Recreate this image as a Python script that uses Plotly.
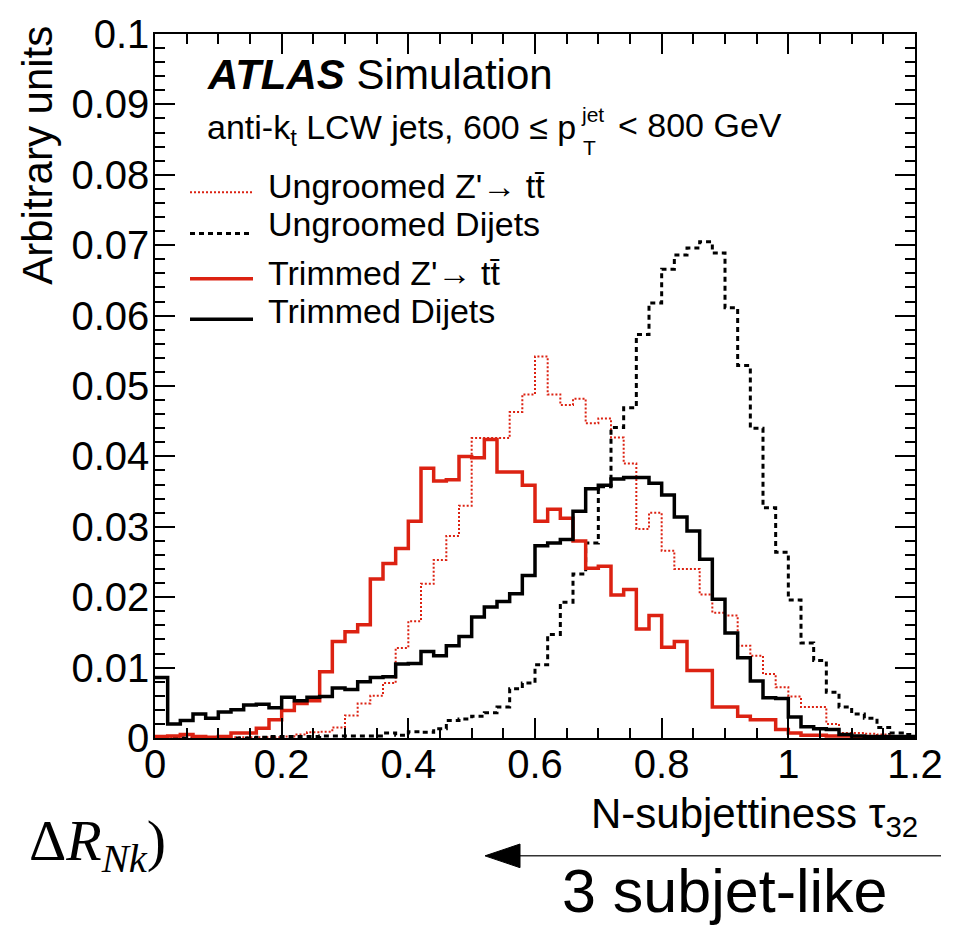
import numpy as np
import plotly.graph_objects as go

# ---------------- data ----------------
X_MIN, X_MAX, N_BINS = 0.0, 1.2, 60
bin_edges = np.linspace(X_MIN, X_MAX, N_BINS + 1)

ungroomed_zprime = [0.0, 0.0001, 0.0001, 0.0001, 0.0001, 0.0001, 0.0001, 0.0001, 0.0001, 0.0001,
                    0.0002, 0.0005, 0.0008, 0.0009, 0.0015, 0.0032, 0.0049, 0.0060, 0.0078, 0.0128,
                    0.0166, 0.0219, 0.0253, 0.0287, 0.0330, 0.0426, 0.0426, 0.0426, 0.0463, 0.0488,
                    0.0542, 0.0488, 0.0473, 0.0482, 0.0447, 0.0454, 0.0427, 0.0390, 0.0297, 0.0320,
                    0.0266, 0.0240, 0.0240, 0.0204, 0.0178, 0.0174, 0.0131, 0.0117, 0.0091, 0.0072,
                    0.0059, 0.0044, 0.0044, 0.0020, 0.0007, 0.0007, 0.0006, 0.0005, 0.0003, 0.0002]

ungroomed_dijets = [0.0, 0.0, 0.0, 0.0, 0.0, 0.0, 0.0, 0.0, 0.0001, 0.0002,
                    0.0002, 0.0002, 0.0002, 0.0003, 0.0003, 0.0003, 0.0003, 0.0003, 0.0007, 0.0004,
                    0.0009, 0.0008, 0.0013, 0.0025, 0.0027, 0.0031, 0.0036, 0.0044, 0.0070, 0.0078,
                    0.0104, 0.0147, 0.0193, 0.0233, 0.0277, 0.0357, 0.0441, 0.0469, 0.0573, 0.0618,
                    0.0666, 0.0686, 0.0696, 0.0705, 0.0689, 0.0611, 0.0529, 0.0440, 0.0327, 0.0264,
                    0.0196, 0.0135, 0.0110, 0.0065, 0.0044, 0.0034, 0.0028, 0.0015, 0.0007, 0.0005]

trimmed_zprime = [0.0002, 0.0003, 0.0005, 0.0002, 0.0001, 0.0002, 0.0007, 0.0007, 0.0014, 0.0026,
                  0.0039, 0.0049, 0.0053, 0.0094, 0.0137, 0.0151, 0.0161, 0.0226, 0.0248, 0.0269,
                  0.0308, 0.0383, 0.0365, 0.0367, 0.0400, 0.0398, 0.0424, 0.0378, 0.0378, 0.0359,
                  0.0308, 0.0325, 0.0312, 0.0280, 0.0241, 0.0244, 0.0203, 0.0211, 0.0155, 0.0174,
                  0.0129, 0.0137, 0.0096, 0.0096, 0.0044, 0.0044, 0.0031, 0.0026, 0.0026, 0.0012,
                  0.0007, 0.0004, 0.0004, 0.0003, 0.0003, 0.0001, 0.0001, 0.0001, 0.0, 0.0]

trimmed_dijets = [0.0086, 0.0020, 0.0025, 0.0034, 0.0028, 0.0037, 0.0040, 0.0047, 0.0048, 0.0043,
                  0.0058, 0.0053, 0.0058, 0.0059, 0.0071, 0.0069, 0.0080, 0.0086, 0.0087, 0.0105,
                  0.0106, 0.0123, 0.0117, 0.0131, 0.0144, 0.0172, 0.0186, 0.0194, 0.0205, 0.0231,
                  0.0273, 0.0277, 0.0282, 0.0322, 0.0354, 0.0359, 0.0368, 0.0370, 0.0370, 0.0362,
                  0.0345, 0.0314, 0.0294, 0.0254, 0.0197, 0.0149, 0.0114, 0.0081, 0.0057, 0.0056,
                  0.0030, 0.0016, 0.0013, 0.0012, 0.0005, 0.0003, 0.0002, 0.0002, 0.0002, 0.0002]

x_tick_vals = [0, 0.2, 0.4, 0.6, 0.8, 1.0, 1.2]
x_tick_text = ["0", "0.2", "0.4", "0.6", "0.8", "1", "1.2"]
y_tick_vals = [0, 0.01, 0.02, 0.03, 0.04, 0.05, 0.06, 0.07, 0.08, 0.09, 0.1]
y_tick_text = ["0", "0.01", "0.02", "0.03", "0.04", "0.05", "0.06", "0.07", "0.08", "0.09", "0.1"]

series_names = ["Ungroomed Z'\u2192 tt\u0304", "Ungroomed Dijets",
                "Trimmed Z'\u2192 tt\u0304", "Trimmed Dijets"]

# ---------------- styling / layout ----------------
W, H = 961, 925
L, R, T, B = 155, 915, 23.3, 738.3   # plot-area pixel box
RED = "#dc2212"
FONT = "Liberation Sans, Arial, Helvetica, sans-serif"
SERIF = "Liberation Serif, Times New Roman, serif"

styles = [
    dict(color=RED, width=2, dash="2px,2px"),
    dict(color="black", width=3, dash="5px,4px"),
    dict(color=RED, width=3.5, dash="solid"),
    dict(color="black", width=3.5, dash="solid"),
]


def px(xp):
    return (xp - L) / (R - L)


def py(yp):
    return (B - yp) / (B - T)


def step(vals):
    return list(bin_edges), list(vals) + [vals[-1]]


fig = go.Figure()
for vals, name, st in zip([ungroomed_zprime, ungroomed_dijets, trimmed_zprime, trimmed_dijets],
                          series_names, styles):
    xs, ys = step(vals)
    fig.add_trace(go.Scatter(x=xs, y=ys, mode="lines", line_shape="hv", name=name,
                             line=st, showlegend=False, hoverinfo="skip"))

annotations = []


def ann(text, x, y, size, xanchor="left", yanchor="middle", family=FONT, **kw):
    annotations.append(dict(text=text, x=px(x), y=py(y), xref="paper", yref="paper",
                            xanchor=xanchor, yanchor=yanchor, showarrow=False,
                            font=dict(family=family, size=size, color="black"), **kw))


ann("<b><i>ATLAS</i></b> Simulation", 205, 64, 42)
ann("anti-k<sub>t</sub> LCW jets, 600 \u2264 p", 578, 120, 34, xanchor="right")
ann("jet", 579, 105, 21)
ann("T", 581, 139, 21)
ann("< 800 GeV", 616, 116, 34)

legend_y_text = [178, 216, 266, 305]
legend_y_line = [184, 226, 272, 313]
for name, yt in zip(series_names, legend_y_text):
    ann(name, 266, yt, 34)

ann("N-subjettiness \u03c4<sub>32</sub>", 920, 818, 42, xanchor="right")
ann("Arbitrary units", 38, 147, 42, xanchor="center", textangle=-90)
ann("\u0394<i>R<sub>Nk</sub></i>)", 168, 846, 58, xanchor="right", family=SERIF)
ann("3 subjet-like", 725, 894, 61, xanchor="center")

shapes = []
for yl, st in zip(legend_y_line, styles):
    shapes.append(dict(type="line", xref="paper", yref="paper",
                       x0=px(190), x1=px(253), y0=py(yl), y1=py(yl),
                       line=dict(color=st["color"], width=st["width"], dash=st["dash"])))

# arrow below the axis
shapes.append(dict(type="line", xref="paper", yref="paper", x0=px(515), x1=px(941),
                   y0=py(858), y1=py(858), line=dict(color="#333333", width=1.5)))
shapes.append(dict(type="path", xref="paper", yref="paper",
                   path=f"M {px(485)},{py(858)} L {px(520)},{py(846)} L {px(520)},{py(870)} Z",
                   fillcolor="black", line=dict(color="black", width=1)))

axis_common = dict(showline=True, linecolor="black", linewidth=1.5, mirror="allticks",
                   ticks="inside", ticklen=20, tickwidth=1.5, tickcolor="black",
                   showgrid=False, zeroline=False,
                   tickfont=dict(family=FONT, size=40, color="black"))

fig.update_layout(
    width=W, height=H,
    margin=dict(l=L, r=W - R, t=T, b=H - B, pad=0),
    paper_bgcolor="white", plot_bgcolor="white",
    xaxis=dict(range=[X_MIN, X_MAX], tickvals=x_tick_vals, ticktext=x_tick_text,
               ticklabelstandoff=-10,
               minor=dict(dtick=0.05, ticklen=10, tickwidth=1.5, tickcolor="black", ticks="inside"),
               **axis_common),
    yaxis=dict(range=[0, 0.1], tickvals=y_tick_vals, ticktext=y_tick_text,
               ticklabelstandoff=-4,
               minor=dict(dtick=0.002, ticklen=10, tickwidth=1.5, tickcolor="black", ticks="inside"),
               **axis_common),
    annotations=annotations,
    shapes=shapes,
    showlegend=False,
)

fig.write_html("out.html")
